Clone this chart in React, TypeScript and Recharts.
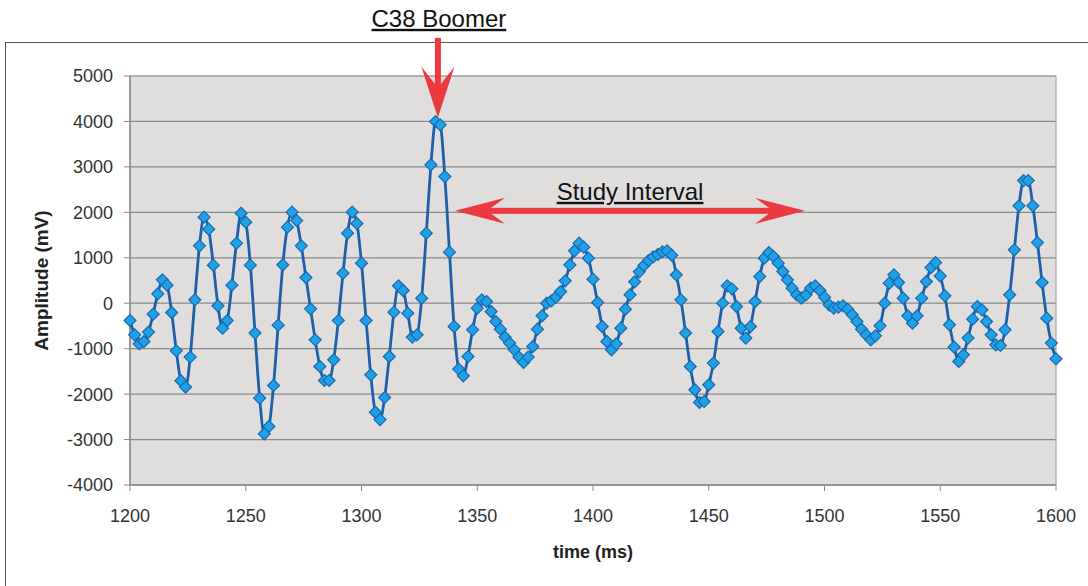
import { LineChart, Line, XAxis, YAxis, CartesianGrid, ReferenceLine, ReferenceArea } from "recharts";

// sampled every 2 ms starting at 1200 ms
const START_MS = 1200;
const STEP_MS = 2;

// amplitude in mV, one row per 50 ms
const AMPLITUDE = [
  -380, -695, -893, -843, -636, -240, 207, 515, 398, -205, -1047, -1707, -1846, -1186, 75, 1263, 1894, 1630, 838, -57, -548, -381, 398, 1322, 1982,
  1784, 838, -658, -2088, -2873, -2712, -1810, -482, 845, 1674, 2004, 1819, 1263, 565, -123, -805, -1393, -1700, -1700, -1245, -380, 662, 1542, 2004, 1755,
  882, -380, -1575, -2400, -2560, -2075, -1173, -196, 383, 279, -218, -746, -695, 112, 1542, 3045, 3997, 3925, 2787, 1124, -513, -1450, -1597, -1173, -585,
  -108, 75, 37, -183, -403, -570, -746, -878, -1025, -1186, -1304, -1186, -953, -570, -277, 2, 53, 134, 257, 493, 845, 1153, 1322, 1234, 992,
  530, 15, -513, -843, -1025, -893, -548, -130, 185, 471, 691, 830, 940, 1021, 1072, 1131, 1153, 1058, 625, 75, -658, -1393, -1905, -2185, -2163,
  -1795, -1318, -623, 2, 383, 317, -73, -548, -768, -513, 37, 587, 992, 1115, 1027, 882, 697, 515, 332, 185, 112, 185, 332, 383, 279,
  134, -35, -108, -86, -57, -130, -255, -403, -570, -695, -805, -717, -497, 2, 442, 625, 455, 112, -277, -438, -277, 112, 477, 785, 895,
  601, 163, -475, -966, -1282, -1135, -768, -350, -73, -145, -403, -695, -915, -930, -585, 185, 1175, 2143, 2699, 2699, 2143, 1335, 455, -328, -878,
  -1223,
];

const X_TICKS = [1200, 1250, 1300, 1350, 1400, 1450, 1500, 1550, 1600];
const Y_TICKS = [-4000, -3000, -2000, -1000, 0, 1000, 2000, 3000, 4000, 5000];

// annotation anchors in data units
const BOOMER_ARROW = [{ x: 1333, y: 5840 }, { x: 1333, y: 4080 }];
const STUDY_ARROW = [{ x: 1340.4, y: 2033 }, { x: 1491.6, y: 2033 }];

const data = AMPLITUDE.map((v, i) => ({ t: START_MS + i * STEP_MS, amp: v }));

const FONT = "'Liberation Sans', Arial, Helvetica, sans-serif";
const RED = "#ea3a40";

const Diamond = (props: any) => {
  const { cx, cy, index } = props;
  if (cx == null || cy == null) return <g key={`d${index}`} />;
  const r = 6;
  return (
    <path
      key={`d${index}`}
      d={`M${cx},${cy - r}L${cx + r},${cy}L${cx},${cy + r}L${cx - r},${cy}Z`}
      fill="#1fa2e5"
      stroke="#1a68b2"
      strokeWidth={1.2}
    />
  );
};

const BoomerShape = (props: any) => {
  const { x1, y1, y2 } = props;
  const x = x1;
  return (
    <g>
      <text x={x + 1} y={y1 - 11} textAnchor="middle" fontFamily={FONT} fontSize={24} fill="#111" textDecoration="underline">
        C38 Boomer
      </text>
      <rect x={x - 3} y={y1} width={6} height={y2 - y1 - 28} fill={RED} />
      <path d={`M${x - 16.5},${y2 - 51}L${x},${y2}L${x + 16.5},${y2 - 51}L${x},${y2 - 30}Z`} fill={RED} />
    </g>
  );
};

const StudyShape = (props: any) => {
  const { x1, x2, y1 } = props;
  const y = y1;
  return (
    <g>
      <text x={(x1 + x2) / 2} y={y - 11} textAnchor="middle" fontFamily={FONT} fontSize={24} fill="#111" textDecoration="underline">
        Study Interval
      </text>
      <rect x={x1 + 28} y={y - 3} width={x2 - x1 - 56} height={6} fill={RED} />
      <path d={`M${x1},${y}L${x1 + 50},${y - 13}L${x1 + 32},${y}L${x1 + 50},${y + 13}Z`} fill={RED} />
      <path d={`M${x2},${y}L${x2 - 50},${y - 13}L${x2 - 32},${y}L${x2 - 50},${y + 13}Z`} fill={RED} />
    </g>
  );
};

export default function App() {
  return (
    <div style={{ position: "absolute", left: 0, top: 0, width: 1088, height: 586, overflow: "hidden", background: "#fff" }}>
      <div
        style={{
          position: "absolute",
          left: 5,
          top: 42,
          width: 1200,
          height: 700,
          border: "1.5px solid #555",
        }}
      />
      <div style={{ position: "absolute", left: 0, top: 0 }}>
        <LineChart width={1088} height={586} data={data} margin={{ top: 76, right: 32, bottom: 0, left: 0 }}>
          <CartesianGrid vertical={false} stroke="#8a8a8a" strokeWidth={1.2} fill="#dfdedd" fillOpacity={1} />
          <ReferenceArea x1={1200} x2={1600} y1={-4000} y2={5000} fill="none" stroke="#a8a8a8" strokeWidth={1.2} />
          <XAxis
            dataKey="t"
            type="number"
            domain={[1200, 1600]}
            ticks={X_TICKS}
            interval={0}
            height={101}
            tickSize={6}
            tickMargin={18}
            axisLine={{ stroke: "#8a8a8a", strokeWidth: 1.5 }}
            tickLine={{ stroke: "#8a8a8a" }}
            tick={{ fill: "#333", fontSize: 18, fontFamily: FONT }}
            label={{ value: "time (ms)", position: "insideBottom", offset: 28, fill: "#222", fontSize: 18, fontWeight: "bold", fontFamily: FONT }}
          />
          <YAxis
            type="number"
            domain={[-4000, 5000]}
            ticks={Y_TICKS}
            interval={0}
            width={130}
            tickSize={6}
            tickMargin={11}
            axisLine={{ stroke: "#8a8a8a", strokeWidth: 1.5 }}
            tickLine={{ stroke: "#8a8a8a" }}
            tick={{ fill: "#333", fontSize: 18, fontFamily: FONT }}
            label={{
              value: "Amplitude (mV)",
              angle: -90,
              position: "insideLeft",
              offset: 41,
              fill: "#222",
              fontSize: 19,
              fontWeight: "bold",
              fontFamily: FONT,
              style: { textAnchor: "middle" },
            }}
          />
          <Line
            type="monotone"
            dataKey="amp"
            stroke="#1e5fa9"
            strokeWidth={2.8}
            dot={Diamond}
            activeDot={false}
            isAnimationActive={false}
          />
          <ReferenceLine segment={BOOMER_ARROW} ifOverflow="visible" shape={BoomerShape} />
          <ReferenceLine segment={STUDY_ARROW} ifOverflow="visible" shape={StudyShape} />
        </LineChart>
      </div>
    </div>
  );
}
